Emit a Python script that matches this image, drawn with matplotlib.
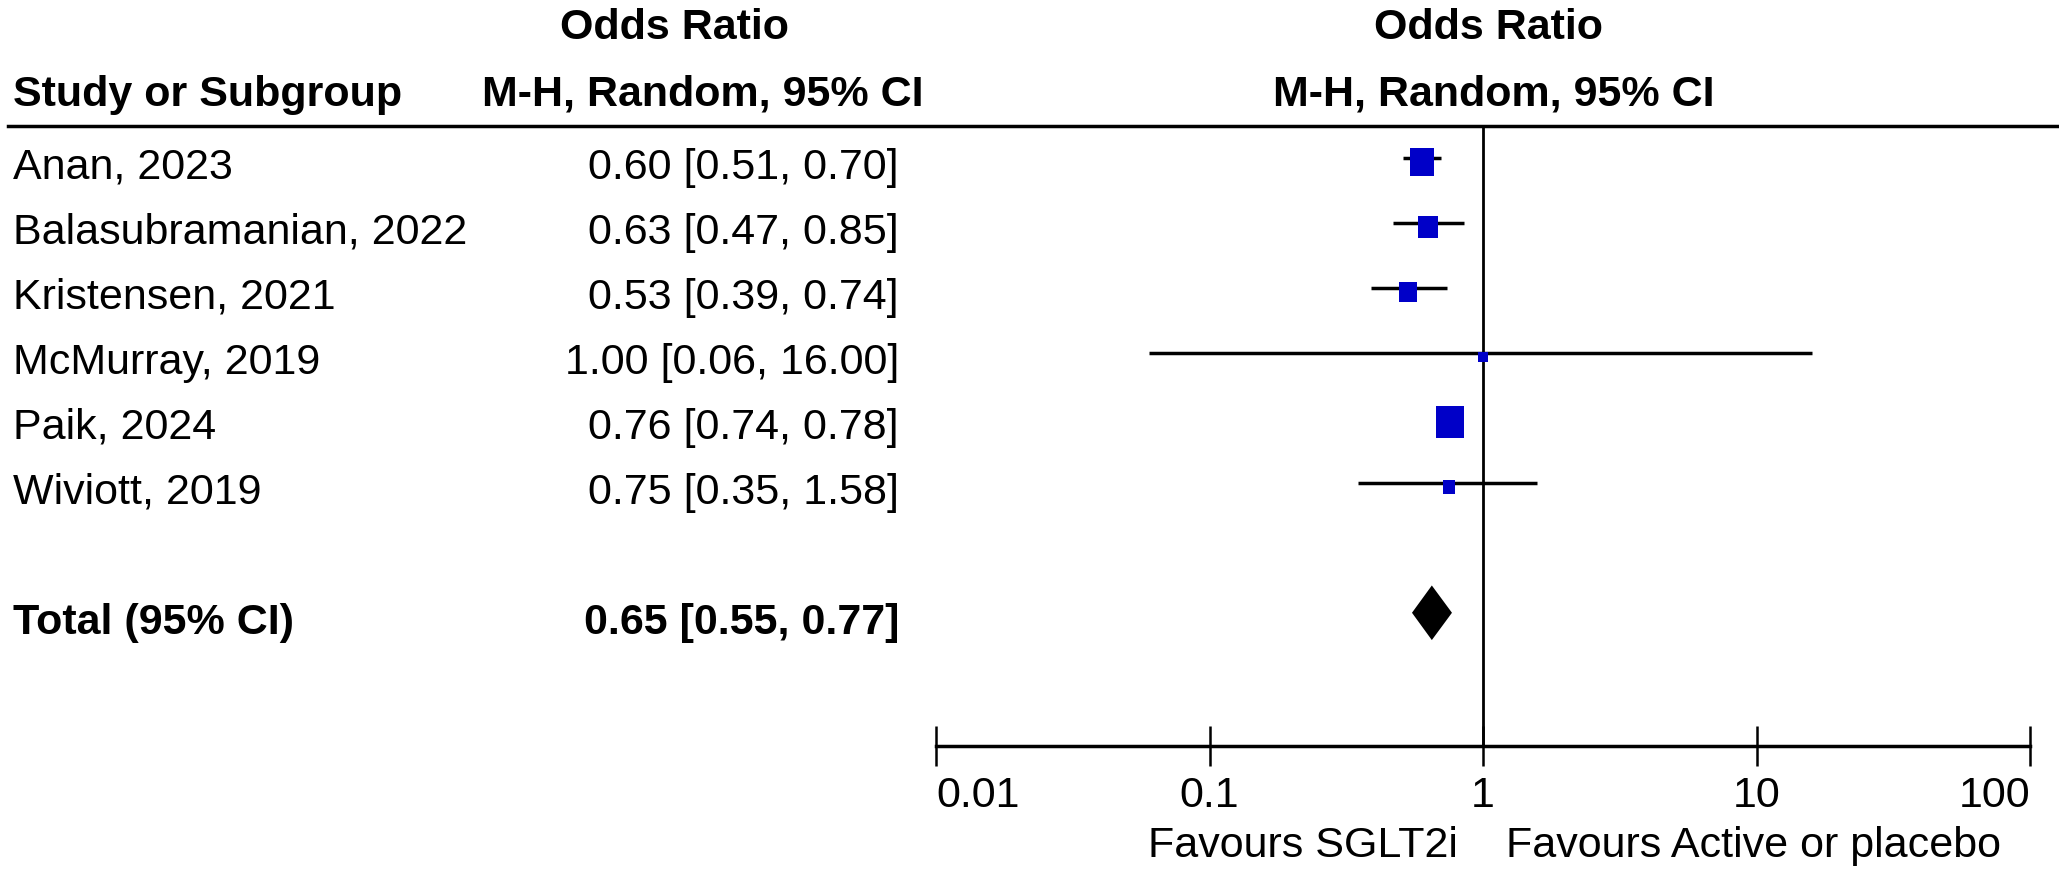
import matplotlib.pyplot as plt
from matplotlib.lines import Line2D
from matplotlib import transforms
import numpy as np

plt.rcParams['font.family'] = ['Liberation Sans', 'DejaVu Sans']

# study data
studies = ["Anan, 2023", "Balasubramanian, 2022", "Kristensen, 2021",
           "McMurray, 2019", "Paik, 2024", "Wiviott, 2019"]
odds = [0.60, 0.63, 0.53, 1.00, 0.76, 0.75]
ci_low = [0.51, 0.47, 0.39, 0.06, 0.74, 0.35]
ci_high = [0.70, 0.85, 0.74, 16.00, 0.78, 1.58]
weights = [25.4, 15.9, 14.3, 3.6, 34.5, 6.3]

total_label = "Total (95% CI)"
total_or = 0.65
total_low = 0.55
total_high = 0.77

xticks = [0.01, 0.1, 1, 10, 100]
xtick_labels = ["0.01", "0.1", "1", "10", "100"]

W, H = 2059, 871
fs = 31
blue = '#0000c8'

fig = plt.figure(figsize=(W / 100, H / 100), dpi=100)
ax = fig.add_axes([936 / W, 1 - 746 / H, (2030 - 936) / W, (746 - 126) / H])
ax.set_xscale('log')
ax.set_xlim(0.01, 100)
ax.set_ylim(9.05, -0.49)

rows = np.arange(len(studies))
total_row = len(studies) + 1
text_off = 0.15

# confidence intervals and boxes
ax.hlines(rows, ci_low, ci_high, color='black', lw=2.5, zorder=2)
box = [(-1, -1.15), (1, -1.15), (1, 1.15), (-1, 1.15)]
for y, o, w in zip(rows, odds, weights):
    ms = 4.77 * np.sqrt(w) * 1.15 * 0.72
    ax.plot(o, y + 0.07, marker=box, ms=ms, color=blue, mew=0, zorder=3)

# pooled diamond
ax.fill([total_low, total_or, total_high, total_or],
        [total_row, total_row - 0.42, total_row, total_row + 0.42],
        color='black', lw=0, zorder=3)

ax.axvline(1, color='black', lw=2, zorder=1)

for s in ['top', 'left', 'right']:
    ax.spines[s].set_visible(False)
ax.spines['bottom'].set_linewidth(2.5)
ax.set_yticks([])
ax.set_xticks(xticks)
ax.set_xticklabels(xtick_labels)
ax.minorticks_off()
ax.tick_params(axis='x', direction='inout', length=29, width=1.8, pad=7,
               labelsize=fs, colors='black')
labs = ax.get_xticklabels()
labs[0].set_horizontalalignment('left')
labs[-1].set_horizontalalignment('right')

ax.annotate("Favours SGLT2i", xy=(1, 0), xycoords=('data', 'axes fraction'),
            xytext=(-25, -100), textcoords='offset pixels',
            ha='right', va='center', fontsize=fs)
ax.annotate("Favours Active or placebo", xy=(1, 0), xycoords=('data', 'axes fraction'),
            xytext=(23, -100), textcoords='offset pixels',
            ha='left', va='center', fontsize=fs)

# left text columns
tr = transforms.blended_transform_factory(fig.transFigure, ax.transData)
for y, name, o, lo, hi in zip(rows, studies, odds, ci_low, ci_high):
    ax.text(13 / W, y + text_off, name, transform=tr, ha='left', va='center', fontsize=fs)
    ax.text(899 / W, y + text_off, f"{o:.2f} [{lo:.2f}, {hi:.2f}]", transform=tr,
            ha='right', va='center', fontsize=fs)
ax.text(13 / W, total_row + text_off, total_label, transform=tr, ha='left',
        va='center', fontsize=fs, fontweight='bold')
ax.text(899 / W, total_row + text_off,
        f"{total_or:.2f} [{total_low:.2f}, {total_high:.2f}]", transform=tr,
        ha='right', va='center', fontsize=fs, fontweight='bold')

# headers
fig.text(675 / W, 1 - 28 / H, "Odds Ratio", ha='center', va='center', fontsize=fs, fontweight='bold')
fig.text(703 / W, 1 - 95 / H, "M-H, Random, 95% CI", ha='center', va='center', fontsize=fs, fontweight='bold')
fig.text(13 / W, 1 - 95 / H, "Study or Subgroup", ha='left', va='center', fontsize=fs, fontweight='bold')
fig.text(1488 / W, 1 - 28 / H, "Odds Ratio", ha='center', va='center', fontsize=fs, fontweight='bold')
fig.text(1494 / W, 1 - 95 / H, "M-H, Random, 95% CI", ha='center', va='center', fontsize=fs, fontweight='bold')
fig.add_artist(Line2D([8 / W, 1], [1 - 126 / H] * 2, color='black', lw=2.5))

fig.savefig('out.png', dpi=100)
